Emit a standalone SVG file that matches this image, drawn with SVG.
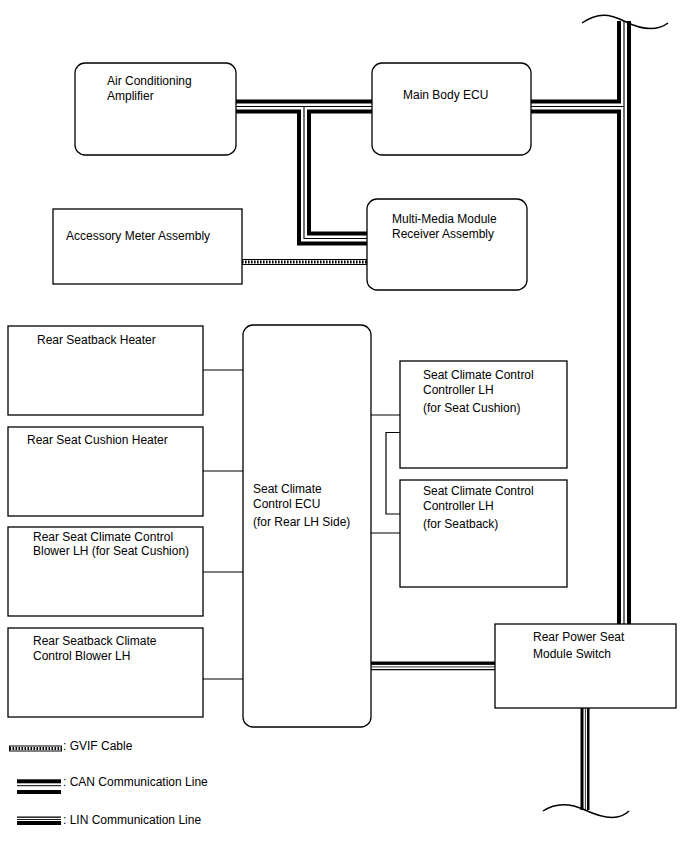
<svg xmlns="http://www.w3.org/2000/svg" width="688" height="852" viewBox="0 0 688 852">
<style>
.box{fill:#fff;stroke:#000;stroke-width:1.3}
.t{font-family:"Liberation Sans",Arial,sans-serif;font-size:12px;fill:#000}
.thin{fill:none;stroke:#000;stroke-width:1.2}
.canB{fill:none;stroke:#000;stroke-width:14;stroke-linejoin:miter}
.canW{fill:none;stroke:#fff;stroke-width:6;stroke-linejoin:miter}
.canT{fill:none;stroke:#000;stroke-width:1.1;stroke-linejoin:miter}
.wave{fill:none;stroke:#000;stroke-width:1.5}
.gvifO{fill:#fff;stroke:#000;stroke-width:1}
.gvifD{fill:none;stroke:#000;stroke-width:3;stroke-dasharray:1.6 1.4}
</style>
<rect width="688" height="852" fill="#fff"/>
<g id="connectors">
  <path class="canB" d="M236,106.5H372 M531,106.5H624 M304,106.5V238.5H367 M624,21V624"/>
  <path class="canW" d="M236,106.5H372 M531,106.5H624 M304,106.5V238.5H367 M624,21V624"/>
  <path class="canT" d="M236,106.5H372 M531,106.5H624 M304,106.5V238.5H367 M624,21V624"/>
  <rect class="gvifO" x="242" y="259.5" width="125" height="5"/>
  <line class="gvifD" x1="242" y1="262" x2="367" y2="262"/>
  <path class="thin" d="M203,370H243 M203,471H243 M203,572H243 M203,679H243 M371,415H400 M371,533H400 M400,432.5H386V514H400"/>
  <rect x="371" y="661.5" width="124" height="3.4" fill="#000"/>
  <line x1="371" y1="666.9" x2="495" y2="666.9" stroke="#000" stroke-width="0.8"/>
  <line x1="371" y1="669.6" x2="495" y2="669.6" stroke="#000" stroke-width="1.2"/>
  <rect x="580.5" y="708" width="3" height="102" fill="#000"/>
  <line x1="585.4" y1="708" x2="585.4" y2="810" stroke="#000" stroke-width="0.8"/>
  <rect x="587" y="708" width="2.5" height="102" fill="#000"/>
  <path class="wave" d="M582,23C598,12 610,14 624,21S655,33 668,23"/>
  <path class="wave" d="M543,811C555,803 570,803 585,810S618,822 629,811"/>
</g>
<g id="ac-amp">
  <rect class="box" x="75" y="63" width="161" height="92" rx="10"/>
  <text class="t" x="107" y="85">Air Conditioning</text>
  <text class="t" x="107" y="100">Amplifier</text>
</g>
<g id="main-body-ecu">
  <rect class="box" x="372" y="63" width="159" height="92" rx="10"/>
  <text class="t" x="403" y="99">Main Body ECU</text>
</g>
<g id="mm-module">
  <rect class="box" x="367" y="199" width="160" height="91" rx="10"/>
  <text class="t" x="392" y="223">Multi-Media Module</text>
  <text class="t" x="392" y="238">Receiver Assembly</text>
</g>
<g id="accessory-meter">
  <rect class="box" x="53" y="209" width="189" height="75"/>
  <text class="t" x="66" y="240">Accessory Meter Assembly</text>
</g>
<g id="rear-seatback-heater">
  <rect class="box" x="8" y="326" width="195" height="89"/>
  <text class="t" x="37" y="344">Rear Seatback Heater</text>
</g>
<g id="rear-seat-cushion-heater">
  <rect class="box" x="8" y="427" width="195" height="89"/>
  <text class="t" x="27" y="444">Rear Seat Cushion Heater</text>
</g>
<g id="rear-seat-blower-cushion">
  <rect class="box" x="8" y="527" width="195" height="89"/>
  <text class="t" x="33" y="541">Rear Seat Climate Control</text>
  <text class="t" x="33" y="555">Blower LH (for Seat Cushion)</text>
</g>
<g id="rear-seatback-blower">
  <rect class="box" x="8" y="628" width="195" height="89"/>
  <text class="t" x="33" y="645">Rear Seatback Climate</text>
  <text class="t" x="33" y="660">Control Blower LH</text>
</g>
<g id="seat-climate-ecu">
  <rect class="box" x="243" y="325" width="128" height="402" rx="10"/>
  <text class="t" x="253" y="493">Seat Climate</text>
  <text class="t" x="253" y="508">Control ECU</text>
  <text class="t" x="253" y="526">(for Rear LH Side)</text>
</g>
<g id="controller-cushion">
  <rect class="box" x="400" y="361" width="167" height="107"/>
  <text class="t" x="423" y="379">Seat Climate Control</text>
  <text class="t" x="423" y="394">Controller LH</text>
  <text class="t" x="423" y="412">(for Seat Cushion)</text>
</g>
<g id="controller-seatback">
  <rect class="box" x="400" y="480" width="167" height="107"/>
  <text class="t" x="423" y="495">Seat Climate Control</text>
  <text class="t" x="423" y="510">Controller LH</text>
  <text class="t" x="423" y="528">(for Seatback)</text>
</g>
<g id="rear-power-seat-switch">
  <rect class="box" x="495" y="624" width="181" height="84"/>
  <text class="t" x="533" y="641">Rear Power Seat</text>
  <text class="t" x="533" y="658">Module Switch</text>
</g>
<g id="legend">
  <rect class="gvifO" x="9.5" y="746" width="52" height="5"/>
  <line class="gvifD" x1="9.5" y1="748.5" x2="61.5" y2="748.5"/>
  <text class="t" x="63" y="750">: GVIF Cable</text>
  <rect x="17" y="779.3" width="44" height="4" fill="#000"/>
  <rect x="17" y="785.2" width="44" height="1" fill="#000"/>
  <rect x="17" y="790" width="44" height="4" fill="#000"/>
  <text class="t" x="63" y="786">: CAN Communication Line</text>
  <rect x="17" y="816.5" width="44" height="1.3" fill="#000"/>
  <rect x="17" y="819" width="44" height="0.9" fill="#000"/>
  <rect x="17" y="821" width="44" height="4" fill="#000"/>
  <text class="t" x="63" y="824">: LIN Communication Line</text>
</g>
</svg>
